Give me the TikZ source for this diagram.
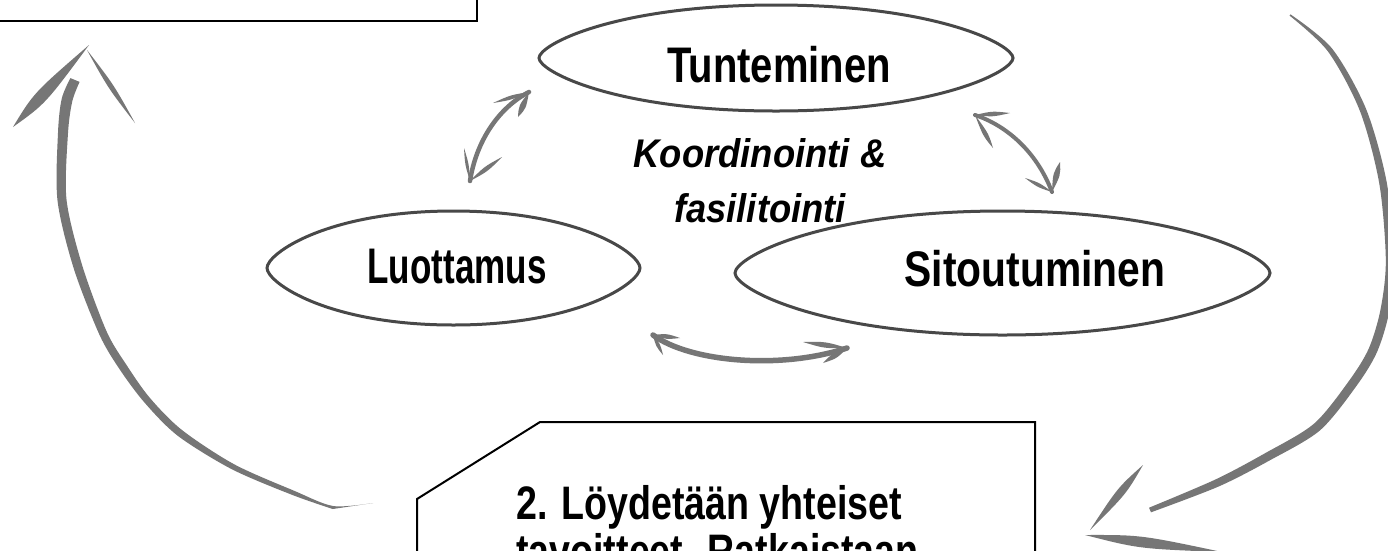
\documentclass[tikz,border=0pt]{standalone}
\usepackage{fontspec}
\usetikzlibrary{calc}
\newfontfamily\condfont{Liberation Sans}[FakeStretch=0.8]
\newfontfamily\italfont{Liberation Sans}[FakeStretch=0.91]
\definecolor{arrowgray}{RGB}{118,118,118}
\definecolor{ellgray}{RGB}{72,72,72}
% brush-like leaf between two points: #3 = control offset, #4 = position of bulge
\newcommand{\brushleaf}[4]{\fill[arrowgray] (#1) .. controls ($(#1)!#4!(#2)!#3!90:(#2)$) .. (#2) .. controls ($(#1)!#4!(#2)!#3!-90:(#2)$) .. (#1) -- cycle;}
% slightly pointed hand-drawn ellipse: centre x, centre y, x radius, y radius
\newcommand{\lensshape}[4]{\draw[ellline] (#1-#3,#2) .. controls (#1-#3,#2-0.25*#4) and (#1-0.68*#3,#2-#4) .. (#1,#2-#4) .. controls (#1+0.68*#3,#2-#4) and (#1+#3,#2-0.25*#4) .. (#1+#3,#2) .. controls (#1+#3,#2+0.25*#4) and (#1+0.68*#3,#2+#4) .. (#1,#2+#4) .. controls (#1-0.68*#3,#2+#4) and (#1-#3,#2+0.25*#4) .. cycle;}
\begin{document}
\begin{tikzpicture}[x=1pt,y=-1pt,
  ellline/.style={draw=ellgray, line width=3pt},
  big/.style={font=\condfont\bfseries\fontsize{50}{56}\selectfont, inner sep=0pt, anchor=base},
  ital/.style={font=\italfont\bfseries\itshape\fontsize{40}{48}\selectfont, inner sep=0pt, anchor=base},
  boxtext/.style={font=\condfont\bfseries\fontsize{47}{52}\selectfont, inner sep=0pt, anchor=base west},
  frame/.style={draw=black, line width=2pt},
  shaft/.style={draw=arrowgray, line width=4.5pt, line cap=round},
]
\useasboundingbox (0,0) rectangle (1388,550);
\clip (0,0) rectangle (1388,550);
\fill[white] (0,0) rectangle (1388,550);

% frames
\draw[frame] (-5,-5) rectangle (477,21);
\draw[frame] (417,560) -- (417,499) -- (540,422) -- (1035,422) -- (1035,560);

% ellipses
\lensshape{776}{58}{237}{53}
\lensshape{453.5}{268}{186.5}{57}
\lensshape{1002.5}{273}{267.5}{62}

% texts
\node[big] (tunt) at (779,82) {Tunteminen};
\node[big] (luot) at (457,283) {\scalebox{0.876}[1]{Luottamus}};
\node[big] (sito) at (1035,286) {\scalebox{1.02}[1]{Sitoutuminen}};
\node[ital] (koA) at (760,167) {Koordinointi \&};
\node[ital] (koB) at (760,222) {fasilitointi};
\node[boxtext] (b1) at (516,519) {2. Löydetään yhteiset};
\node[boxtext] (b2) at (516,567) {tavoitteet. Ratkaistaan};

% big left arc
\fill[arrowgray] plot[smooth] coordinates {(79.6,81.9) (72.3,101.2) (68,133.2) (66.5,199.5) (82.3,265.7) (106.6,331.4) (126.4,364.8) (149.7,397.7) (182.2,430.2) (234.4,464.4) (294,490.7) (333.2,506) (373,503)}
  -- plot[smooth] coordinates {(332.8,509) (292,494.8) (231.6,469.1) (177.8,435.8) (144.3,402.3) (119.6,369.2) (99.4,334.6) (73.7,268.3) (57.5,200.5) (58,132.8) (61.7,98.8) (70.4,78.1)} -- cycle;
\coordinate (LApex) at (89,45);
\coordinate (LApex2) at (87,50);
\coordinate (LBarbA) at (13,127);
\coordinate (LBarbB) at (135,123);
\brushleaf{LApex}{LBarbA}{8pt}{0.65}
\brushleaf{LApex2}{LBarbB}{3.3pt}{0.5}

% big right arc
\fill[arrowgray] plot[smooth] coordinates {(1290.5,14.4) (1332,48.5) (1366,108.8) (1386.7,182.3) (1394.2,260) (1389.4,310.9) (1377.1,351.8) (1356.6,385.7) (1319.9,430.4) (1269.1,460.7) (1218.6,486.5) (1151,512.3)}
  -- plot[smooth] coordinates {(1149,507.7) (1215.4,479.5) (1264.9,453.3) (1314.1,423.6) (1349.4,380.3) (1368.9,348.2) (1380.6,309.1) (1385.8,260) (1379.3,183.7) (1360,111.2) (1328,51.5) (1289.5,15.6)} -- cycle;
\coordinate (RBarbUp) at (1143,465);
\coordinate (RApex) at (1090,530);
\coordinate (RApex2) at (1085,535);
\coordinate (RBarbLow) at (1222,552);
\brushleaf{RBarbUp}{RApex}{5.3pt}{0.4}
\brushleaf{RApex2}{RBarbLow}{7pt}{0.4}

% small double arrow: Luottamus <-> Tunteminen
\coordinate (sl1) at (470,181);
\coordinate (sl2) at (529,92);
\coordinate (sl2a) at (493,103);
\coordinate (sl2b) at (518,117);
\coordinate (sl1a) at (464,148);
\coordinate (sl1b) at (502,157);
\draw[shaft] (sl1) .. controls (476,142) and (498,108) .. (sl2);
\brushleaf{sl2}{sl2a}{2.5pt}{0.5}
\brushleaf{sl2}{sl2b}{4pt}{0.6}
\brushleaf{sl1}{sl1a}{2pt}{0.5}
\brushleaf{sl1}{sl1b}{3pt}{0.5}

% small double arrow: Tunteminen <-> Sitoutuminen
\coordinate (sr1) at (975,115);
\coordinate (sr2) at (1052,192);
\coordinate (sr1a) at (1010,113);
\coordinate (sr1b) at (993,148);
\coordinate (sr2a) at (1060,162);
\coordinate (sr2b) at (1025,178);
\draw[shaft, line width=4pt] (sr1) .. controls (1005,125) and (1036,150) .. (sr2);
\brushleaf{sr1}{sr1a}{3pt}{0.5}
\brushleaf{sr1}{sr1b}{3pt}{0.6}
\brushleaf{sr2}{sr2a}{4pt}{0.6}
\brushleaf{sr2}{sr2b}{2.5pt}{0.5}

% bottom double arrow: Luottamus <-> Sitoutuminen
\coordinate (sb1) at (653,335);
\coordinate (sb2) at (847,348);
\coordinate (sb1a) at (680,338);
\coordinate (sb1b) at (663,355);
\coordinate (sb2a) at (803,342);
\coordinate (sb2b) at (823,363);
\draw[shaft, line width=5.5pt] (sb1) .. controls (690,362) and (780,370) .. (sb2);
\brushleaf{sb1}{sb1a}{3pt}{0.5}
\brushleaf{sb1}{sb1b}{2.5pt}{0.5}
\brushleaf{sb2}{sb2a}{3.5pt}{0.5}
\brushleaf{sb2}{sb2b}{3.5pt}{0.5}
\end{tikzpicture}
\end{document}
